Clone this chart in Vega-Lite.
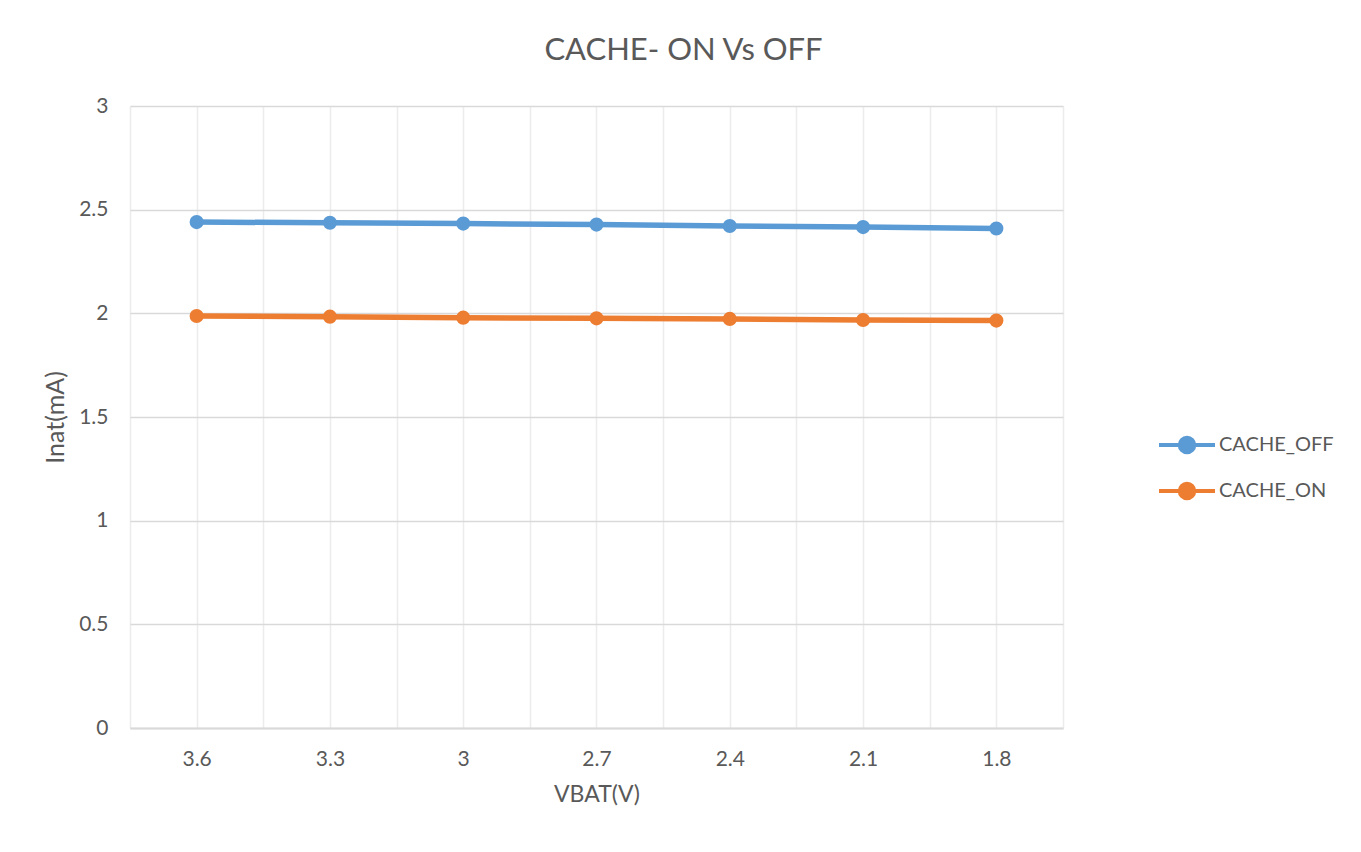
{
  "$schema": "https://vega.github.io/schema/vega-lite/v6.json",
  "autosize": {"type": "none"},
  "width": 933,
  "height": 622,
  "padding": {"left": 130, "top": 106, "right": 298, "bottom": 124},
  "background": "white",
  "config": {
    "view": {"stroke": null},
    "font": "Lato",
    "axis": {"labelColor": "#595959", "titleColor": "#595959", "labelFont": "Lato", "titleFont": "Lato", "titleFontWeight": "normal"},
    "legend": {"labelColor": "#595959", "labelFont": "Lato"}
  },
  "title": {
    "text": "CACHE- ON Vs OFF",
    "font": "Lato",
    "fontSize": 31,
    "fontWeight": "normal",
    "color": "#595959",
    "anchor": "middle",
    "frame": "group",
    "dx": 87,
    "offset": 28
  },
  "data": {
    "values": [
      {"vbat": 3.6, "series": "CACHE_OFF", "inat": 2.440},
      {"vbat": 3.3, "series": "CACHE_OFF", "inat": 2.437},
      {"vbat": 3.0, "series": "CACHE_OFF", "inat": 2.433},
      {"vbat": 2.7, "series": "CACHE_OFF", "inat": 2.428},
      {"vbat": 2.4, "series": "CACHE_OFF", "inat": 2.421},
      {"vbat": 2.1, "series": "CACHE_OFF", "inat": 2.416},
      {"vbat": 1.8, "series": "CACHE_OFF", "inat": 2.409},
      {"vbat": 3.6, "series": "CACHE_ON", "inat": 1.987},
      {"vbat": 3.3, "series": "CACHE_ON", "inat": 1.984},
      {"vbat": 3.0, "series": "CACHE_ON", "inat": 1.979},
      {"vbat": 2.7, "series": "CACHE_ON", "inat": 1.976},
      {"vbat": 2.4, "series": "CACHE_ON", "inat": 1.973},
      {"vbat": 2.1, "series": "CACHE_ON", "inat": 1.968},
      {"vbat": 1.8, "series": "CACHE_ON", "inat": 1.965}
    ]
  },
  "mark": {"type": "line", "strokeWidth": 5.5, "point": {"filled": true, "size": 200, "opacity": 1}},
  "encoding": {
    "x": {
      "field": "vbat",
      "type": "quantitative",
      "scale": {"domain": [3.75, 1.65], "nice": false, "zero": false},
      "axis": {
        "title": "VBAT(V)",
        "titleFontSize": 23,
        "titlePadding": 14,
        "values": [3.75, 3.6, 3.45, 3.3, 3.15, 3.0, 2.85, 2.7, 2.55, 2.4, 2.25, 2.1, 1.95, 1.8, 1.65],
        "format": ".1~f",
        "labelExpr": "indexof([3.6, 3.3, 3, 2.7, 2.4, 2.1, 1.8], datum.value) >= 0 ? datum.label : ''",
        "labelFontSize": 21,
        "labelPadding": 20,
        "labelFlush": false,
        "labelOverlap": false,
        "ticks": false,
        "domain": true,
        "domainColor": "#d9d9d9",
        "domainWidth": 2,
        "grid": true,
        "gridColor": "#ececec",
        "gridWidth": 1.5
      }
    },
    "y": {
      "field": "inat",
      "type": "quantitative",
      "scale": {"domain": [0, 3], "nice": false},
      "axis": {
        "title": "Inat(mA)",
        "titleFontSize": 25,
        "titlePadding": 10,
        "values": [0, 0.5, 1, 1.5, 2, 2.5, 3],
        "format": "~g",
        "labelFontSize": 21,
        "labelPadding": 22,
        "ticks": false,
        "domain": false,
        "grid": true,
        "gridColor": "#d9d9d9",
        "gridWidth": 1.5
      }
    },
    "color": {
      "field": "series",
      "type": "nominal",
      "scale": {"domain": ["CACHE_OFF", "CACHE_ON"], "range": ["#5b9bd5", "#ed7d31"]},
      "legend": {
        "title": null,
        "orient": "none",
        "legendX": 1027,
        "legendY": 309,
        "labelFontSize": 20,
        "symbolType": "M-1,0H1M0.26,0A0.26,0.26,0,1,1,-0.26,0A0.26,0.26,0,1,1,0.26,0Z",
        "symbolSize": 3136,
        "symbolStrokeWidth": 4,
        "rowPadding": 0,
        "labelOffset": 2,
        "encode": {
          "symbols": {"update": {"fill": {"scale": "color", "field": "value"}, "stroke": {"scale": "color", "field": "value"}, "opacity": {"value": 1}}}
        }
      }
    }
  }
}
